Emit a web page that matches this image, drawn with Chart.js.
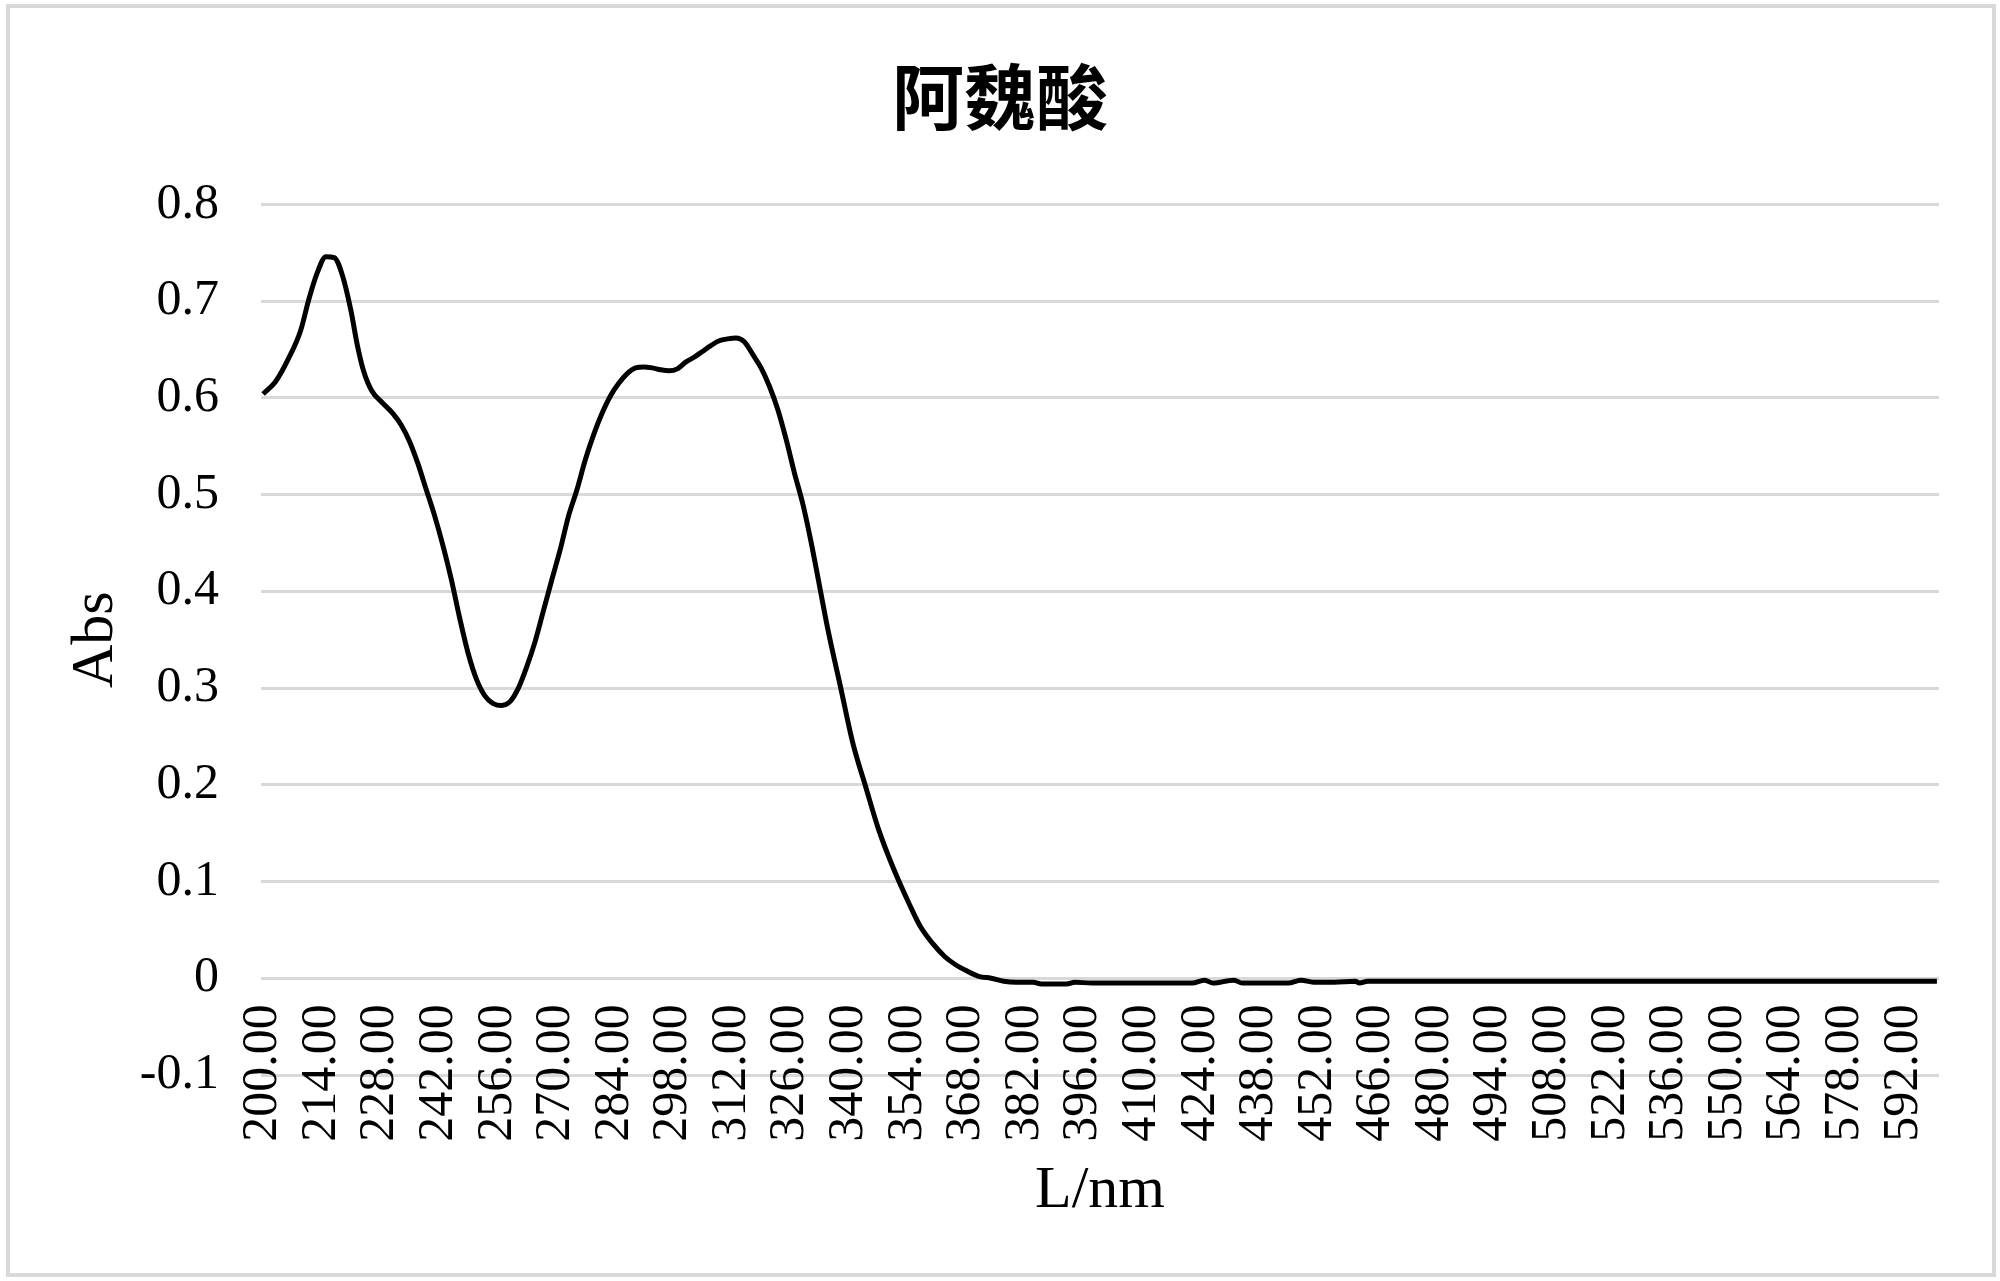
<!DOCTYPE html>
<html lang="zh">
<head>
  <meta charset="UTF-8" />
  <title>阿魏酸</title>
  <script src="https://cdn.jsdelivr.net/npm/chart.js"></script>
  <style>
    body {
      margin: 0;
      background: #ffffff;
      width: 2000px;
      height: 1281px;
      overflow: hidden;
      position: relative;
    }
    #chart {
      position: absolute;
      left: 0;
      top: 0;
    }
    .frame {
      position: absolute;
      left: 6px;
      top: 4px;
      width: 1990px;
      height: 1273px;
      box-sizing: border-box;
      border: 4px solid #d9d9d9;
      pointer-events: none;
    }
  </style>
</head>
<body>
  <canvas id="chart" width="2000" height="1281"></canvas>
  <div class="frame"></div>

  <script>
    // wavelength (nm) and absorbance
    const wavelength = [
      200, 203, 206, 209, 211, 213, 215, 217, 219, 221, 222.5, 224, 226, 228.5,
      231, 233, 235, 237, 239, 241, 243, 245, 247, 249, 251, 253, 255, 257, 259,
      261, 263, 265, 267, 269, 271, 273, 275, 277, 279, 281, 283, 285, 287, 289,
      291, 293, 295, 297, 299, 301, 303, 305, 307, 309, 311, 313, 315, 317, 319,
      321, 323, 325, 327, 329, 331, 333, 335, 338, 341, 344, 347, 350.5, 354.5,
      357, 360, 363, 365.5, 368, 371, 374, 377, 380, 384, 386, 392, 394, 398,
      406, 412, 422, 425, 427, 432, 434, 441, 445, 448, 451, 456, 461, 462, 464,
      480, 520, 560, 600
    ];
    const absorbance = [
      0.604, 0.617, 0.640, 0.670, 0.703, 0.730, 0.746, 0.745, 0.726, 0.690, 0.655, 0.628, 0.607, 0.595,
      0.584, 0.572, 0.555, 0.532, 0.505, 0.478, 0.447, 0.412, 0.372, 0.336, 0.309, 0.292, 0.284, 0.282, 0.286,
      0.300, 0.322, 0.348, 0.380, 0.412, 0.443, 0.478, 0.505, 0.536, 0.562, 0.584, 0.602, 0.615, 0.625, 0.631,
      0.632, 0.631, 0.629, 0.628, 0.630, 0.637, 0.642, 0.648, 0.654, 0.659, 0.661, 0.662, 0.658, 0.645, 0.631,
      0.612, 0.588, 0.557, 0.522, 0.490, 0.450, 0.405, 0.360, 0.301, 0.242, 0.198, 0.155, 0.115, 0.076,
      0.054, 0.036, 0.022, 0.014, 0.008, 0.002, 0.000, -0.003, -0.004, -0.004, -0.006, -0.006, -0.004, -0.005,
      -0.005, -0.005, -0.005, -0.002, -0.005, -0.002, -0.005, -0.005, -0.005, -0.002, -0.004, -0.004, -0.003, -0.005, -0.003,
      -0.003, -0.003, -0.003, -0.003
    ];
    const xTickLabels = [
      200, 214, 228, 242, 256, 270, 284, 298, 312, 326, 340, 354, 368, 382, 396,
      410, 424, 438, 452, 466, 480, 494, 508, 522, 536, 550, 564, 578, 592
    ];
    const yTickLabels = [-0.1, 0, 0.1, 0.2, 0.3, 0.4, 0.5, 0.6, 0.7, 0.8];

    const serif = "'Liberation Serif', 'Times New Roman', serif";

    const chart = new Chart(document.getElementById("chart"), {
      type: "line",
      data: {
        datasets: [{
          label: "阿魏酸",
          data: wavelength.map((w, i) => ({ x: w, y: absorbance[i] })),
          borderColor: "#000000",
          borderWidth: 5,
          pointRadius: 0,
          cubicInterpolationMode: "monotone",
          fill: false
        }]
      },
      options: {
        responsive: false,
        animation: false,
        layout: { padding: { top: 20, left: 61, right: 61, bottom: 206 } },
        plugins: {
          legend: { display: false },
          tooltip: { enabled: false },
          title: {
            display: true,
            text: "阿魏酸",
            color: "#000000",
            font: { family: "'Noto Sans CJK SC', sans-serif", size: 72, weight: "bold" },
            padding: { top: 33, bottom: 65 }
          }
        },
        scales: {
          x: {
            type: "linear",
            position: { y: 0 },
            min: 199.5,
            max: 600.5,
            afterBuildTicks: s => { s.ticks = xTickLabels.map(v => ({ value: v })); },
            afterFit: s => { s.height = 206; },
            grid: { display: false, drawTicks: false },
            border: { display: false },
            ticks: {
              autoSkip: false,
              minRotation: 90,
              maxRotation: 90,
              padding: 26,
              color: "#000000",
              font: { family: serif, size: 50 },
              callback: v => v.toFixed(2)
            },
            title: {
              display: true,
              text: "L/nm",
              color: "#000000",
              font: { family: serif, size: 60 },
              padding: { top: 0, bottom: -43 }
            }
          },
          y: {
            min: -0.1,
            max: 0.8,
            afterBuildTicks: s => { s.ticks = yTickLabels.map(v => ({ value: v })); },
            afterFit: s => { s.width = 200; },
            grid: { color: "#d9d9d9", lineWidth: 3, drawTicks: false },
            border: { display: false },
            ticks: {
              padding: 42,
              color: "#000000",
              font: { family: serif, size: 50 },
              callback: v => String(Number(v.toFixed(1)))
            },
            title: {
              display: true,
              text: "Abs",
              color: "#000000",
              font: { family: serif, size: 60 },
              padding: { top: -1, bottom: 0 }
            }
          }
        }
      }
    });
  </script>
</body>
</html>
